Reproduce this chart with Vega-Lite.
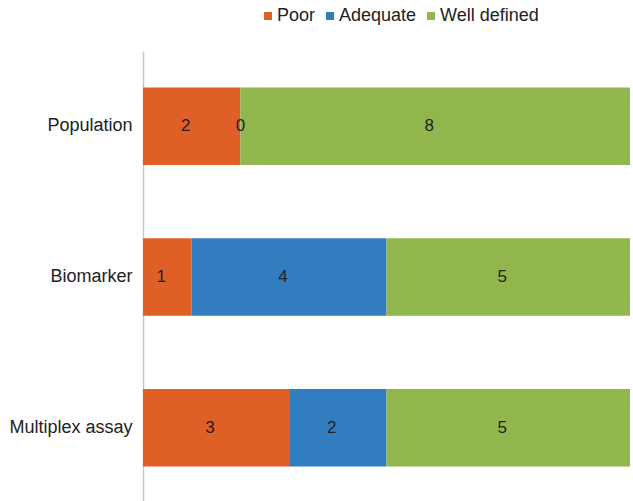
{
  "$schema": "https://vega.github.io/schema/vega-lite/v6.json",
  "autosize": "none",
  "width": 487,
  "height": 452,
  "padding": {"left": 143, "top": 51, "right": 3, "bottom": 0},
  "background": "white",
  "config": {
    "view": {"stroke": null},
    "font": "Liberation Sans"
  },
  "data": {
    "values": [
      {"category": "Population", "level": "Poor", "order": 1, "value": 2},
      {"category": "Population", "level": "Adequate", "order": 2, "value": 0},
      {"category": "Population", "level": "Well defined", "order": 3, "value": 8},
      {"category": "Biomarker", "level": "Poor", "order": 1, "value": 1},
      {"category": "Biomarker", "level": "Adequate", "order": 2, "value": 4},
      {"category": "Biomarker", "level": "Well defined", "order": 3, "value": 5},
      {"category": "Multiplex assay", "level": "Poor", "order": 1, "value": 3},
      {"category": "Multiplex assay", "level": "Adequate", "order": 2, "value": 2},
      {"category": "Multiplex assay", "level": "Well defined", "order": 3, "value": 5}
    ]
  },
  "transform": [
    {"stack": "value", "groupby": ["category"], "sort": [{"field": "order", "order": "ascending"}], "as": ["x0", "x1"]},
    {"calculate": "(datum.x0 + datum.x1) / 2", "as": "mid"}
  ],
  "encoding": {
    "y": {
      "field": "category",
      "type": "nominal",
      "sort": ["Population", "Biomarker", "Multiplex assay"],
      "scale": {"paddingInner": 0.486, "paddingOuter": 0.243},
      "axis": {
        "title": null,
        "ticks": false,
        "labelFontSize": 18,
        "labelColor": "#222222",
        "labelPadding": 11,
        "domainColor": "#c8c8c8",
        "domainWidth": 1.5
      }
    }
  },
  "layer": [
    {
      "mark": {"type": "bar"},
      "encoding": {
        "x": {"field": "x0", "type": "quantitative", "scale": {"domain": [0, 10], "nice": false}, "axis": null},
        "x2": {"field": "x1"},
        "color": {
          "field": "level",
          "type": "nominal",
          "sort": ["Poor", "Adequate", "Well defined"],
          "scale": {"domain": ["Poor", "Adequate", "Well defined"], "range": ["#E05F27", "#327DC0", "#92B64E"]},
          "legend": {
            "title": null,
            "orient": "none",
            "direction": "horizontal",
            "legendX": 116,
            "legendY": -44,
            "symbolType": "square",
            "symbolSize": 64,
            "symbolStrokeWidth": 0,
            "labelFontSize": 18,
            "labelColor": "#222222",
            "labelOffset": 0,
            "columnPadding": 5
          }
        }
      }
    },
    {
      "transform": [{"filter": "datum.value > 0"}],
      "mark": {"type": "text", "fontSize": 17, "color": "#222222", "dx": -6},
      "encoding": {
        "x": {"field": "mid", "type": "quantitative"},
        "text": {"field": "value", "type": "quantitative"}
      }
    },
    {
      "transform": [{"filter": "datum.value == 0"}],
      "mark": {"type": "text", "fontSize": 17, "color": "#222222"},
      "encoding": {
        "x": {"field": "mid", "type": "quantitative"},
        "text": {"field": "value", "type": "quantitative"}
      }
    }
  ]
}
